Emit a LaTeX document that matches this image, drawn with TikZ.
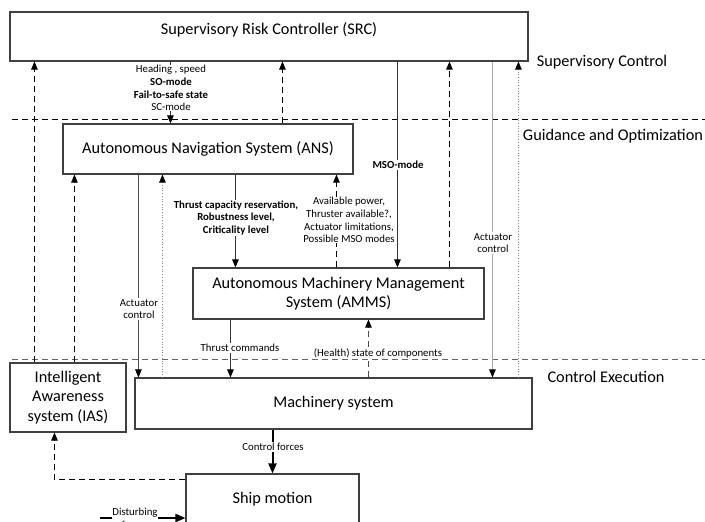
\documentclass[tikz,border=0pt]{standalone}
\usepackage{fontspec}
\setmainfont{Carlito}
\usetikzlibrary{arrows.meta}

\begin{document}
\begin{tikzpicture}[x=1pt, y=-1pt,
    box/.style={draw=black!75, line width=1.1pt, font=\fontsize{16.3}{19.5}\selectfont, align=center, inner sep=0pt},
    lbl/.style={fill=white, inner sep=0.8pt, font=\fontsize{10.8}{12.6}\selectfont, align=center},
    layer/.style={font=\fontsize{16.3}{19}\selectfont, anchor=center},
    arr/.style={-{Triangle[length=8pt, width=6.5pt, color=black]}},
    bigarr/.style={-{Triangle[length=10pt, width=8pt, color=black]}, line width=2pt},
    dashline/.style={dash pattern=on 6pt off 4pt, line width=0.9pt},
    dotline/.style={dotted, black!45, line width=0.7pt}]
    \useasboundingbox (0,0) rectangle (705,522);

    % boxes
    \node(SRC)[box, minimum width=518pt, minimum height=49pt, text depth=16pt] at (269,36.5) {Supervisory Risk Controller (SRC)};
    \node(ANS)[box, minimum width=290pt, minimum height=50pt] at (208,149) {Autonomous Navigation System (ANS)};
    \node(AMMS)[box, minimum width=291pt, minimum height=51pt] at (338.5,293.5) {Autonomous Machinery Management\\System (AMMS)};
    \node(IAS)[box, minimum width=116pt, minimum height=69pt] at (68,397.5) {Intelligent\\Awareness\\system (IAS)};
    \node(MS)[box, minimum width=397pt, minimum height=51pt] at (333.5,403.5) {Machinery system};
    \node(SM)[box, minimum width=173pt, minimum height=50pt] at (272.5,499) {Ship motion};

    % layers
    \coordinate(L1a) at (12,119);
    \coordinate(L1b) at (705,119);
    \coordinate(L2a) at (12,359);
    \coordinate(L2b) at (705,359);
    \draw[dashline] (L1a) -- (L1b);
    \draw[dashline, black!60] (L2a) -- (L2b);
    \node(SC)[layer] at (602,62) {Supervisory Control};
    \node(GO)[layer] at (613,136) {Guidance and Optimization};
    \node(CE)[layer] at (606,377) {Control Execution};

    % connectors
    \draw[dashline, arr] ([xshift=25pt]IAS.north west) -- ([xshift=25pt]IAS.north west |- SRC.south);
    \draw[dashline, arr] ([xshift=65pt]IAS.north west) -- ([xshift=65pt]IAS.north west |- ANS.south);
    \draw[black!80, line width=0.8pt, arr] ([xshift=108pt]ANS.north west |- SRC.south) -- ([xshift=108pt]ANS.north west);
    \draw[dashline, arr] ([xshift=220pt]ANS.north west) -- ([xshift=220pt]ANS.north west |- SRC.south);
    \draw[black!80, line width=0.9pt, arr] ([xshift=205pt]AMMS.north west |- SRC.south) -- ([xshift=205pt]AMMS.north west);
    \draw[dashline, arr] ([xshift=257pt]AMMS.north west) -- ([xshift=257pt]AMMS.north west |- SRC.south);
    \draw[black!35, line width=0.8pt, arr] ([xshift=358pt]MS.north west |- SRC.south) -- ([xshift=358pt]MS.north west);
    \draw[dotline, arr] ([xshift=384pt]MS.north west) -- ([xshift=384pt]MS.north west |- SRC.south);
    \draw[black!80, line width=0.9pt, arr] ([xshift=43pt]AMMS.north west |- ANS.south) -- ([xshift=43pt]AMMS.north west);
    \draw[dashline, arr] ([xshift=144pt]AMMS.north west) -- ([xshift=144pt]AMMS.north west |- ANS.south);
    \draw[black!70, line width=0.6pt, arr] ([xshift=4pt]MS.north west |- ANS.south) -- ([xshift=4pt]MS.north west);
    \draw[dotline, arr] ([xshift=28pt]MS.north west) -- ([xshift=28pt]MS.north west |- ANS.south);
    \draw[black!80, line width=0.9pt, arr] ([xshift=38pt]AMMS.south west) -- ([xshift=38pt]AMMS.south west |- MS.north);
    \draw[dashline, black!70, arr] ([xshift=234pt]MS.north west) -- ([xshift=234pt]MS.north west |- AMMS.south);
    \draw[bigarr] (MS.south -| SM.north) -- (SM.north);
    \draw[dashline, arr] ([yshift=-6pt]SM.north west) -| ([xshift=45pt]IAS.south west);
    \coordinate(DF) at (100,518);
    \draw[bigarr] (DF) -- (DF -| SM.west);

    % labels
    \node(lHS)[lbl] at (171,88) {Heading , speed\\\textbf{SO-mode}\\\textbf{Fail-to-safe state}\\SC-mode};
    \node(lMSO)[lbl] at (398,165) {\textbf{MSO-mode}};
    \node(lAC1)[lbl] at (493,243) {Actuator\\control};
    \node(lTC)[lbl] at (236,218) {\textbf{Thrust capacity reservation,}\\\textbf{Robustness level,}\\\textbf{Criticality level}};
    \node(lAP)[lbl] at (349,220) {Available power,\\Thruster available?,\\Actuator limitations,\\Possible MSO modes};
    \node(lAC2)[lbl] at (139,309) {Actuator\\control};
    \node(lTh)[lbl] at (240,348) {Thrust commands};
    \node(lHe)[lbl, inner sep=0.3pt] at (378,353) {(Health) state of components};
    \node(lCF)[lbl] at (273,447) {Control forces};
    \node(lDF)[lbl] at (135,518) {Disturbing\\forces};
\end{tikzpicture}
\end{document}
